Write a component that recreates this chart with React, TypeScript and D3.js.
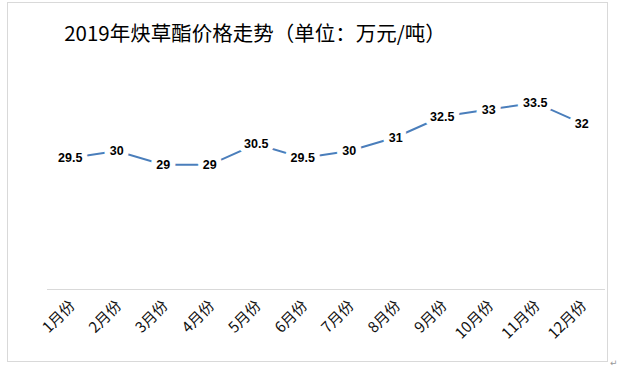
import React from "react";
import * as d3 from "d3";

const months = ["1月份", "2月份", "3月份", "4月份", "5月份", "6月份", "7月份", "8月份", "9月份", "10月份", "11月份", "12月份"];
const prices = [29.5, 30, 29, 29, 30.5, 29.5, 30, 31, 32.5, 33, 33.5, 32];
const title = "2019年炔草酯价格走势（单位：万元/吨）";

const W = 617;
const H = 369;
const margin = { top: 82, right: 12, bottom: 80, left: 47 };

export default function App() {
  const x = d3.scaleBand<string>()
    .domain(months)
    .range([margin.left, W - margin.right]);
  const y = d3.scaleLinear()
    .domain([20, 35])
    .range([H - margin.bottom, margin.top]);
  const cx = (m: string) => x(m)! + x.bandwidth() / 2;
  const line = d3.line<number>()
    .x((_, i) => cx(months[i]))
    .y(d => y(d));
  const axisY = y(20);

  return (
    <svg width={W} height={H} style={{ position: "absolute", left: 0, top: 0, background: "#fff" }}>
      <rect x={7.5} y={2.5} width={600} height={359} fill="#fff" stroke="#d9d9d9" />
      <text x={255} y={41} textAnchor="middle" fontFamily="'Noto Sans CJK SC', sans-serif" fontSize={20.5} fill="#000">
        {title}
      </text>
      <line x1={margin.left} x2={W - margin.right} y1={axisY + 0.5} y2={axisY + 0.5} stroke="#d9d9d9" />
      <path d={line(prices) ?? ""} fill="none" stroke="#4a7ebb" strokeWidth={2} />
      {prices.map((p, i) => (
        <text key={i} x={cx(months[i])} y={y(p)} dy="0.35em" textAnchor="middle"
          fontFamily="'Liberation Sans', Arial, sans-serif" fontWeight="bold" fontSize={12.5}
          fill="#000" stroke="#fff" strokeWidth={11} strokeLinejoin="round" style={{ paintOrder: "stroke" }}>
          {p}
        </text>
      ))}
      {months.map(m => (
        <text key={m} transform={`translate(${cx(m) + 2},${axisY + 14}) rotate(-45)`} textAnchor="end"
          dy="0.35em" fontFamily="'Noto Sans CJK SC', sans-serif" fontSize={15} fill="#111">
          {m}
        </text>
      ))}
      <text x={610} y={366} fontSize={9} fill="#999" fontFamily="'DejaVu Sans', sans-serif">↵</text>
    </svg>
  );
}
